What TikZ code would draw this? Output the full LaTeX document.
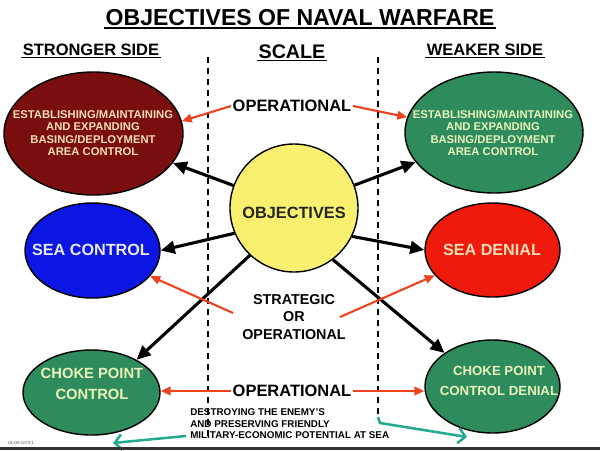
\documentclass[tikz,border=0pt]{standalone}
\usepackage{fontspec}
\setmainfont{Liberation Sans}
\usetikzlibrary{positioning,shapes.geometric,arrows.meta}

\definecolor{maroonfill}{RGB}{122,14,14}
\definecolor{navygreen}{RGB}{46,140,92}
\definecolor{deepblue}{RGB}{12,22,228}
\definecolor{denialred}{RGB}{240,26,12}
\definecolor{objyellow}{RGB}{250,240,112}
\definecolor{peach}{RGB}{245,222,182}
\definecolor{palegreen}{RGB}{232,242,188}
\definecolor{palelilac}{RGB}{232,232,255}
\definecolor{scaleorange}{RGB}{236,66,30}
\definecolor{resultteal}{RGB}{35,170,145}

\tikzset{
    goal/.style={ellipse,draw=black,line width=1pt,inner sep=0pt},
    goallabel/.style={align=center,inner sep=0pt},
    heading/.style={inner sep=1pt},
    thrust/.style={line width=2.2pt,-{Triangle[length=10pt,width=9pt]}},
    scaleline/.style={draw=scaleorange,line width=1.5pt,-{Triangle[length=7pt,width=6pt]}},
    resultline/.style={draw=resultteal,line width=1.8pt,-{Straight Barb[length=5pt,width=11pt]}},
    divider/.style={line width=1.2pt,dash pattern=on 4.3pt off 3.5pt}
}

\begin{document}
\begin{tikzpicture}[x=0.025cm,y=-0.025cm]
\newdimen\Unit
\Unit=0.025cm
\useasboundingbox (0,0) rectangle (600,450);
    % headings
    \node[heading,font=\bfseries\fontsize{16.4}{18}\selectfont] (title) at (300,18) {OBJECTIVES OF NAVAL WARFARE};
    \node[heading,font=\bfseries\fontsize{11.7}{13}\selectfont] (strong) at (91,50) {STRONGER SIDE};
    \node[heading,font=\bfseries\fontsize{14}{16}\selectfont] (scale) at (292,52) {SCALE};
    \node[heading,font=\bfseries\fontsize{11.7}{13}\selectfont] (weak) at (485,50) {WEAKER SIDE};
    \foreach \h/\w in {title/1.3pt,strong/0.9pt,scale/1pt,weak/0.9pt} {
        \draw[line width=\w] (\h.south west) -- (\h.south east);
    }

    % scale dividers
    \coordinate (ltop) at (208,57);
    \coordinate (lbot) at (208,440);
    \coordinate (rtop) at (378,57);
    \coordinate (rbot) at (378,417);
    \draw[divider] (ltop) -- (lbot);
    \draw[divider] (rtop) -- (rbot);

    % objectives
    \node[goal,circle,fill=objyellow,minimum size=128\Unit] (objs) at (294,208) {};
    \node[goallabel,font=\bfseries\fontsize{11.6}{13}\selectfont,text=black!85] (objstxt) at (294,213) {OBJECTIVES};

    \node[goal,fill=maroonfill,minimum width=179\Unit,minimum height=123\Unit] (basestrong) at (93.5,133.5) {};
    \node[goallabel,text=peach,font=\bfseries\fontsize{8}{8.6}\selectfont] (basestrongtxt) at (93,133)
        {ESTABLISHING/MAINTAINING\\AND EXPANDING\\BASING/DEPLOYMENT\\AREA CONTROL};
    \node[goal,fill=navygreen,minimum width=178\Unit,minimum height=121\Unit] (basweak) at (494,132.5) {};
    \node[goallabel,text=palegreen,font=\bfseries\fontsize{8}{8.6}\selectfont] (basweaktxt) at (493,133)
        {ESTABLISHING/MAINTAINING\\AND EXPANDING\\BASING/DEPLOYMENT\\AREA CONTROL};

    \node[goal,fill=deepblue,minimum width=135\Unit,minimum height=95\Unit] (seactl) at (92.5,250.5) {};
    \node[goallabel,text=palelilac,font=\bfseries\fontsize{11.5}{13}\selectfont] (seactltxt) at (91,250) {SEA CONTROL};
    \node[goal,fill=denialred,minimum width=135\Unit,minimum height=94\Unit] (seadeny) at (492.5,250) {};
    \node[goallabel,text=peach,font=\bfseries\fontsize{11.5}{13}\selectfont] (seadenytxt) at (492,250) {SEA DENIAL};

    \node[goal,fill=navygreen,minimum width=137\Unit,minimum height=85\Unit] (chokectl) at (91.5,392.5) {};
    \node[goallabel,text=palegreen,font=\bfseries\fontsize{10.5}{15}\selectfont] (chokectltxt) at (92,383.5)
        {CHOKE POINT\\CONTROL};
    \node[goal,fill=navygreen,minimum width=135\Unit,minimum height=93\Unit] (chokedeny) at (492.5,386.5) {};
    \node[goallabel,text=palegreen,font=\bfseries\fontsize{9.4}{14}\selectfont] (chokedenytxt) at (499,381)
        {CHOKE POINT\\CONTROL DENIAL};

    \draw[thrust] (objs) -- (basestrong);
    \draw[thrust] (objs) -- (basweak);
    \draw[thrust] (objs.203) -- (seactl.east);
    \draw[thrust] (objs.334) -- (seadeny.west);
    \draw[thrust] (objs.227) -- (chokectl.36);
    \draw[thrust] (objs.307) -- (chokedeny.145);

    % scale labels
    \node[heading,font=\bfseries\fontsize{11.7}{13}\selectfont] (optop) at (292,106) {OPERATIONAL};
    \node[heading,align=center,font=\bfseries\fontsize{10.2}{12.2}\selectfont] (strat) at (294,317) {STRATEGIC\\OR\\OPERATIONAL};
    \node[heading,font=\bfseries\fontsize{11.7}{13}\selectfont] (opbot) at (292,391) {OPERATIONAL};
    \coordinate (stratl) at (233,313);
    \coordinate (stratr) at (340,317);

    \draw[scaleline] (optop.west) -- (basestrong.8);
    \draw[scaleline] (optop.east) -- (basweak.170);
    \draw[scaleline] (stratl) -- (seactl);
    \draw[scaleline] (stratr) -- (seadeny);
    \draw[scaleline] (opbot.west) -- (opbot.west -| chokectl.east);
    \draw[scaleline] (opbot.east) -- (opbot.east -| chokedeny.west);

    % final aim
    \node[inner sep=0pt,anchor=north west,align=left,font=\bfseries\fontsize{7}{8.2}\selectfont] (aim) at (190,408.5)
        {DESTROYING THE ENEMY'S\\AND PRESERVING FRIENDLY\\MILITARY-ECONOMIC POTENTIAL AT SEA};
    \coordinate (lstart) at (186,436);
    \coordinate (lend) at (113,443);
    \coordinate (rbend) at (380,423);
    \coordinate (rend) at (467,437);
    \draw[resultline] (lstart) -- (lend);
    \draw[resultline] (rbot) -- (rbend) -- (rend);

    \node[inner sep=0pt,anchor=west,font=\fontsize{3}{3}\selectfont,text=black!70] (slide) at (8,443) {01-0A-1073-1};
    \fill[black!80] (0,447) rectangle (600,450);
\end{tikzpicture}
\end{document}
